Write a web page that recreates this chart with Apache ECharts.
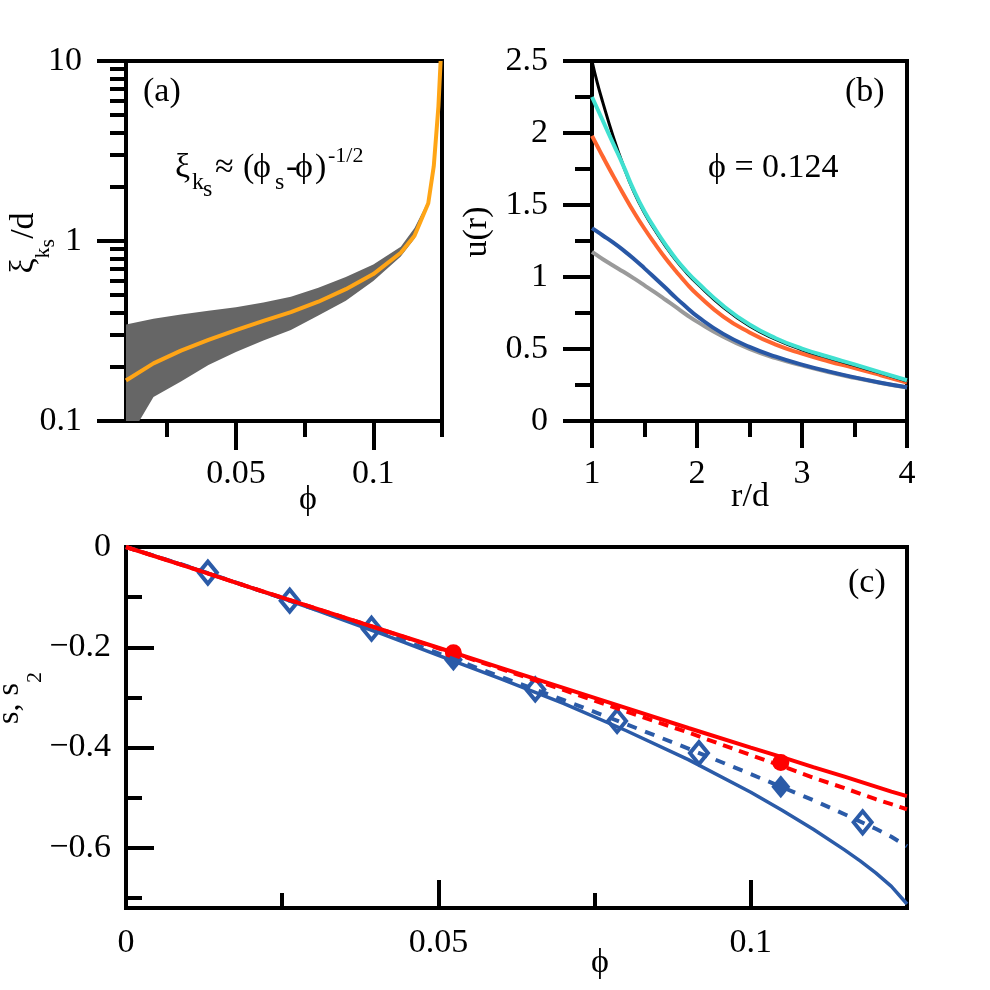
<!DOCTYPE html>
<html>
<head>
<meta charset="utf-8">
<script src="https://cdn.jsdelivr.net/npm/echarts@6/dist/echarts.min.js"></script>
<style>
    html, body { margin: 0; padding: 0; background: #fff; }
    #chart { width: 990px; height: 990px; }
</style>
</head>
<body>
<div id="chart"></div>
<script>
var FONT = '"Liberation Serif", "Times New Roman", serif';

// (a) correlation length vs phi, band + middle curve
var phiA   = [0.01, 0.02, 0.03, 0.04, 0.05, 0.06, 0.07, 0.08, 0.09, 0.10, 0.11, 0.115, 0.12, 0.122, 0.1237, 0.1245];
var xiMid  = [0.168, 0.209, 0.246, 0.282, 0.32, 0.36, 0.403, 0.46, 0.54, 0.655, 0.86, 1.07, 1.62, 2.6, 5.6, 10];
var xiHigh = [0.344, 0.37, 0.39, 0.41, 0.428, 0.455, 0.49, 0.55, 0.63, 0.74, 0.93, 1.18, 1.68, 2.65, 5.7, 10];
var xiLow  = [0.075, 0.136, 0.166, 0.205, 0.242, 0.28, 0.32, 0.385, 0.465, 0.6, 0.82, 1.03, 1.57, 2.55, 5.5, 10];

// (b) u(r) at phi = 0.124
var rB      = [1, 1.05, 1.1, 1.2, 1.3, 1.4, 1.5, 1.6, 1.7, 1.8, 1.9, 2.0, 2.25, 2.5, 2.75, 3.0, 3.25, 3.5, 3.75, 4.0];
var uBlack  = [2.5, 2.35, 2.22, 1.98, 1.77, 1.59, 1.445, 1.325, 1.215, 1.115, 1.03, 0.955, 0.79, 0.66, 0.567, 0.495, 0.438, 0.386, 0.333, 0.278];
var uCyan   = [2.25, 2.17, 2.09, 1.93, 1.77, 1.60, 1.455, 1.335, 1.225, 1.125, 1.04, 0.965, 0.80, 0.67, 0.575, 0.503, 0.446, 0.393, 0.338, 0.283];
var uOrange = [1.98, 1.91, 1.84, 1.705, 1.575, 1.45, 1.335, 1.23, 1.13, 1.04, 0.955, 0.88, 0.725, 0.615, 0.53, 0.468, 0.415, 0.368, 0.318, 0.266];
var uBlue   = [1.34, 1.315, 1.29, 1.24, 1.185, 1.125, 1.06, 0.993, 0.925, 0.855, 0.79, 0.728, 0.605, 0.515, 0.447, 0.392, 0.345, 0.303, 0.266, 0.234];
var uGray   = [1.175, 1.15, 1.125, 1.08, 1.036, 0.99, 0.942, 0.893, 0.842, 0.79, 0.738, 0.69, 0.585, 0.50, 0.436, 0.386, 0.34, 0.30, 0.264, 0.232];

// (c) s, s2 vs phi
var phiC      = [0, 0.01, 0.02, 0.03, 0.04, 0.05, 0.06, 0.07, 0.08, 0.09, 0.1, 0.105, 0.11, 0.115, 0.12, 0.1225, 0.125];
var sRed      = [0, -0.04, -0.081, -0.121, -0.161, -0.201, -0.241, -0.281, -0.321, -0.361, -0.40, -0.419, -0.439, -0.458, -0.478, -0.488, -0.497];
var sRedDash  = [0, -0.04, -0.081, -0.121, -0.161, -0.202, -0.243, -0.285, -0.328, -0.370, -0.415, -0.437, -0.460, -0.481, -0.503, -0.513, -0.523];
var sBlueDash = [0, -0.039, -0.081, -0.123, -0.166, -0.212, -0.259, -0.305, -0.353, -0.402, -0.453, -0.479, -0.505, -0.533, -0.562, -0.578, -0.597];
var phiBlue   = [0, 0.01, 0.02, 0.03, 0.04, 0.05, 0.06, 0.07, 0.08, 0.09, 0.1, 0.105, 0.11, 0.115, 0.1175, 0.12, 0.1225, 0.125];
var sBlue     = [0, -0.039, -0.081, -0.124, -0.169, -0.216, -0.263, -0.312, -0.366, -0.424, -0.489, -0.525, -0.563, -0.604, -0.626, -0.650, -0.677, -0.712];
var phiOpen   = [0.0131, 0.0262, 0.0393, 0.0655, 0.0786, 0.0917, 0.1179];
var sOpen     = [-0.051, -0.107, -0.163, -0.284, -0.347, -0.411, -0.549];
var phiFilled = [0.0524, 0.1048];
var sFilled   = [-0.225, -0.478];
var sRedDots  = [-0.211, -0.430];

var RED = '#ff0000', BLUE = '#2b5ba8';

function zip(xs, ys) {
    return xs.map(function (x, i) { return [x, ys[i]]; });
}

function tickAxis(grid, min, max, ticks, len, inside, labels, margin, extra) {
    var ax = {
        type: 'value', gridIndex: grid, min: min, max: max,
        axisLine: { show: false, onZero: false },
        splitLine: { show: false },
        axisTick: { show: true, inside: inside, length: len, customValues: ticks,
                    lineStyle: { color: '#000', width: 4 } },
        axisLabel: labels ? { show: true, customValues: labels, margin: margin,
                              fontFamily: FONT, fontSize: 34, color: '#000' }
                          : { show: false }
    };
    for (var k in extra) ax[k] = extra[k];
    return ax;
}

// text piece; rich is optional
function txt(x, y, s, size, rot, align, rich) {
    var st = { text: s, fontFamily: FONT, fontSize: size, fill: '#000',
               align: align || 'left', verticalAlign: 'middle' };
    if (rich) st.rich = rich;
    return { type: 'text', x: x, y: y, rotation: rot || 0, silent: true, style: st };
}
var UP = Math.PI / 2;

var minus = function (v) { return String(v).replace('-', '\u2212'); };

// grey band of panel (a), drawn as one polygon in data coordinates
function renderBand(params, api) {
    var pts = [];
    for (var i = 0; i < phiA.length; i++) pts.push(api.coord([phiA[i], xiHigh[i]]));
    for (var j = phiA.length - 1; j >= 0; j--) pts.push(api.coord([phiA[j], xiLow[j]]));
    var cs = params.coordSys;
    return {
        type: 'polygon',
        shape: { points: pts },
        style: { fill: '#666666' },
        clipPath: { type: 'rect', shape: { x: cs.x, y: cs.y, width: cs.width, height: cs.height } }
    };
}

var chart = echarts.init(document.getElementById('chart'));
chart.setOption({
    animation: false,
    backgroundColor: '#fff',
    grid: [
        { left: 126, top: 61, width: 316, height: 360, show: true, borderColor: '#000', borderWidth: 4 },
        { left: 592, top: 61, width: 315, height: 360, show: true, borderColor: '#000', borderWidth: 4 },
        { left: 126, top: 547, width: 781, height: 361, show: true, borderColor: '#000', borderWidth: 4 }
    ],
    xAxis: [
        tickAxis(0, 0.01, 0.125, [0.05, 0.1], 29, false, [0.05, 0.1], 36, { position: 'bottom' }),
        tickAxis(0, 0.01, 0.125, [0.025, 0.075, 0.125], 16, false, null, 0, { position: 'bottom' }),
        tickAxis(1, 1, 4, [1, 2, 3, 4], 27, false, [1, 2, 3, 4], 36, { position: 'bottom' }),
        tickAxis(1, 1, 4, [1.5, 2.5, 3.5], 16, false, null, 0, { position: 'bottom' }),
        tickAxis(2, 0, 0.125, [0, 0.05, 0.1], 28, true, [0, 0.05, 0.1], 18, { position: 'bottom' }),
        tickAxis(2, 0, 0.125, [0.025, 0.075], 15, true, null, 0, { position: 'bottom' })
    ],
    yAxis: [
        tickAxis(0, 0.1, 10, [0.1, 1, 10], 29, false, [0.1, 1, 10], 44, { type: 'log', logBase: 10, position: 'left' }),
        tickAxis(0, 0.1, 10, [0.2, 0.3, 0.4, 0.5, 0.6, 0.7, 0.8, 0.9, 2, 3, 4, 5, 6, 7, 8, 9], 16, false, null, 0,
                 { type: 'log', logBase: 10, position: 'left' }),
        tickAxis(1, 0, 2.5, [0, 0.5, 1, 1.5, 2, 2.5], 29, false, [0, 0.5, 1, 1.5, 2, 2.5], 44, { position: 'left' }),
        tickAxis(1, 0, 2.5, [0.25, 0.75, 1.25, 1.75, 2.25], 17, false, null, 0, { position: 'left' }),
        tickAxis(2, -0.72, 0, [0, -0.2, -0.4, -0.6], 28, true, [0, -0.2, -0.4, -0.6], 15, { position: 'left' }),
        tickAxis(2, -0.72, 0, [-0.1, -0.3, -0.5, -0.7], 16, true, null, 0, { position: 'left' })
    ],
    series: [
        // (a)
        { type: 'custom', xAxisIndex: 0, yAxisIndex: 0, data: [[0.05, 1]], renderItem: renderBand, silent: true },
        { type: 'line', xAxisIndex: 0, yAxisIndex: 0, data: zip(phiA, xiMid),
          symbol: 'none', lineStyle: { color: '#ffa516', width: 4 } },
        // (b)
        { type: 'line', xAxisIndex: 2, yAxisIndex: 2, data: zip(rB, uGray), smooth: true,
          symbol: 'none', lineStyle: { color: '#9a9a9a', width: 4 } },
        { type: 'line', xAxisIndex: 2, yAxisIndex: 2, data: zip(rB, uBlue), smooth: true,
          symbol: 'none', lineStyle: { color: '#2857a5', width: 4 } },
        { type: 'line', xAxisIndex: 2, yAxisIndex: 2, data: zip(rB, uOrange), smooth: true,
          symbol: 'none', lineStyle: { color: '#ff6630', width: 4 } },
        { type: 'line', xAxisIndex: 2, yAxisIndex: 2, data: zip(rB, uBlack), smooth: true,
          symbol: 'none', lineStyle: { color: '#000', width: 3 } },
        { type: 'line', xAxisIndex: 2, yAxisIndex: 2, data: zip(rB, uCyan), smooth: true,
          symbol: 'none', lineStyle: { color: '#40e0d0', width: 4 } },
        // (c)
        { type: 'line', xAxisIndex: 4, yAxisIndex: 4, data: zip(phiBlue, sBlue),
          symbol: 'none', lineStyle: { color: BLUE, width: 3.5 } },
        { type: 'line', xAxisIndex: 4, yAxisIndex: 4, data: zip(phiC, sBlueDash),
          symbol: 'none', lineStyle: { color: BLUE, width: 4, type: [10, 9] } },
        { type: 'line', xAxisIndex: 4, yAxisIndex: 4, data: zip(phiC, sRed),
          symbol: 'none', lineStyle: { color: RED, width: 4 } },
        { type: 'line', xAxisIndex: 4, yAxisIndex: 4, data: zip(phiC, sRedDash),
          symbol: 'none', lineStyle: { color: RED, width: 4, type: [10, 7] } },
        { type: 'scatter', xAxisIndex: 4, yAxisIndex: 4, data: zip(phiOpen, sOpen),
          symbol: 'diamond', symbolSize: [18, 22],
          itemStyle: { color: '#fff', borderColor: BLUE, borderWidth: 4, opacity: 1 } },
        { type: 'scatter', xAxisIndex: 4, yAxisIndex: 4, data: zip(phiFilled, sFilled),
          symbol: 'diamond', symbolSize: [19, 23], itemStyle: { color: BLUE, opacity: 1 } },
        { type: 'scatter', xAxisIndex: 4, yAxisIndex: 4, data: zip(phiFilled, sRedDots),
          symbol: 'circle', symbolSize: 17, itemStyle: { color: RED, opacity: 1 } }
    ],
    graphic: [
        txt(143, 92, '(a)', 34),
        txt(845, 92, '(b)', 34),
        txt(848, 583, '(c)', 34),
        txt(708, 168, '\u03d5 = 0.124', 34),
        // formula in (a)
        txt(175, 168, '\u03be', 34),
        txt(192, 183, 'k', 24),
        txt(203, 190, 's', 24),
        txt(215, 168, '\u2248', 34),
        txt(243, 168, '(', 34),
        txt(253, 168, '\u03d5', 34),
        txt(275, 183, 's', 24),
        txt(286, 168, '-', 34),
        txt(295, 168, '\u03d5', 34),
        txt(315, 168, ')', 34),
        txt(328, 156, '-1/2', 22),
        // axis titles
        txt(24, 243, '{m|\u03be}{k|k}{s|s}{m|/d}', 34, UP, 'center', {
            m: { fontFamily: FONT, fontSize: 34 },
            k: { fontFamily: FONT, fontSize: 22, padding: [38, 0, 0, 0] },
            s: { fontFamily: FONT, fontSize: 22, padding: [48, 0, 0, 0] }
        }),
        txt(308, 500, '\u03d5', 34, 0, 'center'),
        txt(477, 232, 'u(r)', 34, UP, 'center'),
        txt(750, 497, 'r/d', 34, 0, 'center'),
        txt(10, 698, '{m|s, s}{t|2}', 32, UP, 'center', {
            m: { fontFamily: FONT, fontSize: 32 },
            t: { fontFamily: FONT, fontSize: 22, padding: [50, 0, 0, 0] }
        }),
        txt(600, 963, '\u03d5', 34, 0, 'center')
    ]
});
chart.setOption({ yAxis: [{}, {}, {}, {}, { axisLabel: { formatter: minus } }, {}] });
</script>
</body>
</html>
